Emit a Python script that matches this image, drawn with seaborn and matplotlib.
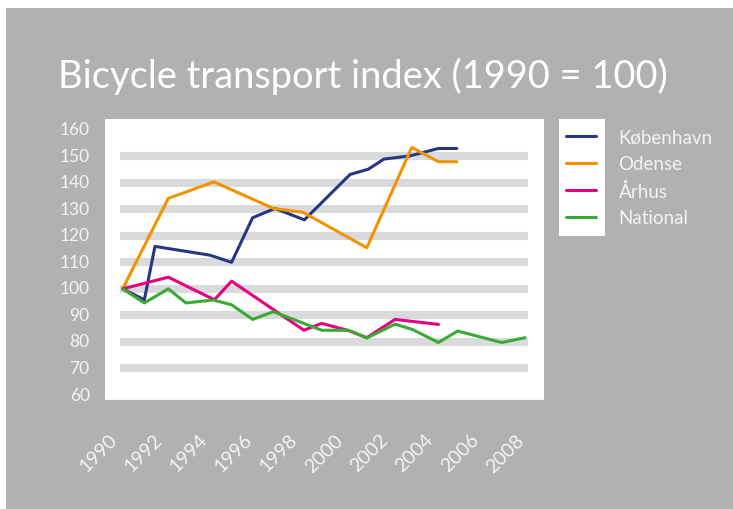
import pandas as pd
import numpy as np
import matplotlib
matplotlib.use('Agg')
import matplotlib.pyplot as plt
import matplotlib.patches as mpatches
from matplotlib.transforms import ScaledTranslation
import seaborn as sns

# data (index, 1990 = 100)
kbh_years = [1990, 1990.96, 1991.43, 1993.86, 1994.82, 1995.75, 1996.74, 1998.04,
             2000.06, 2000.87, 2001.56, 2002.71, 2003.97, 2004.78]
kbh_values = [100, 95.9, 116.0, 112.7, 110.0, 126.8, 130.3, 126.0,
              143.1, 145.1, 148.9, 150.1, 152.9, 152.9]

odense_years = [1990, 1992.02, 1994.04, 1996.67, 1997.99, 2000.8, 2002.79, 2003.97, 2004.78]
odense_values = [100, 134.1, 140.3, 130.3, 128.8, 115.5, 153.3, 147.9, 147.9]

aarhus_years = [1990, 1992.02, 1994.06, 1994.82, 1998.02, 1998.8, 1999.99, 2000.8,
                2002.05, 2003.97]
aarhus_values = [100, 104.4, 95.9, 102.9, 84.4, 87.0, 84.3, 81.6, 88.5, 86.6]

national_years = [1990, 1990.96, 1992.02, 1992.8, 1994.01, 1994.82, 1995.75, 1996.67,
                  1998.81, 1999.99, 2000.8, 2002.05, 2002.82, 2003.97, 2004.82,
                  2006.77, 2007.8]
national_values = [100, 94.7, 100, 94.7, 95.8, 94.0, 88.5, 91.4,
                   84.4, 84.4, 81.5, 86.7, 84.7, 79.8, 84.1, 79.8, 81.6]

series = ['København', 'Odense', 'Århus', 'National']
colors = ['#283583', '#f39200', '#e5007e', '#3aaa35']

band_levels = [70, 80, 90, 100, 110, 120, 130, 140, 150]
y_ticks = [60, 70, 80, 90, 100, 110, 120, 130, 140, 150, 160]
x_labels = ['1990', '1992', '1994', '1996', '1998', '2000', '2002', '2004', '2006', '2008']

df = pd.concat([
    pd.DataFrame({'year': kbh_years, 'index': kbh_values, 'city': series[0]}),
    pd.DataFrame({'year': odense_years, 'index': odense_values, 'city': series[1]}),
    pd.DataFrame({'year': aarhus_years, 'index': aarhus_values, 'city': series[2]}),
    pd.DataFrame({'year': national_years, 'index': national_values, 'city': series[3]}),
])

bg = '#b1b1b3'
txt = '#f4f4f4'
font = ['Lato', 'DejaVu Sans']

sns.set_style('white')
plt.rcParams['font.family'] = font

fig = plt.figure(figsize=(7.33, 5.10), dpi=100)
fig.patches.append(mpatches.Rectangle((6 / 733, 0), 1, 1 - 9 / 510, transform=fig.transFigure,
                                      facecolor=bg, edgecolor='none', zorder=-2))

ax = fig.add_axes([105 / 733, 1 - 404 / 510, 439 / 733, 284 / 510])
ax.set_facecolor('white')

# thick light grey "gridlines"
ax.hlines(band_levels, 0.034, 0.964, transform=ax.get_yaxis_transform(),
          colors='#d9dadb', linewidth=5.8, zorder=1)

sns.lineplot(data=df, x='year', y='index', hue='city', palette=colors, hue_order=series,
             sort=False, estimator=None, linewidth=2.2, legend=False, ax=ax, zorder=3)

ax.set_xlim(1989.22, 2008.64)
ax.set_ylim(57, 164)
ax.set_xlabel('')
ax.set_ylabel('')

for s in ['top', 'right', 'left']:
    ax.spines[s].set_visible(False)
ax.spines['bottom'].set_color(bg)
ax.spines['bottom'].set_linewidth(4.5)
ax.spines['bottom'].set_zorder(1)

ax.set_yticks(y_ticks)
ax.set_yticklabels([str(v) for v in y_ticks])
ax.tick_params(axis='y', length=0, pad=11, labelsize=12.5, labelcolor=txt)
for lab in ax.get_yticklabels():
    lab.set_transform(lab.get_transform() + ScaledTranslation(0, 0.02, fig.dpi_scale_trans))

xt = [1989.4 + 2 * i for i in range(len(x_labels))]
ax.set_xticks(xt)
ax.set_xticklabels(x_labels, rotation=45, ha='right', va='center', rotation_mode='anchor')
ax.tick_params(axis='x', direction='inout', length=6, width=5.5, color='white',
               pad=14, labelsize=14, labelcolor=txt)
for lab in ax.get_xticklabels():
    lab.set_transform(lab.get_transform() + ScaledTranslation(0.05, -0.10, fig.dpi_scale_trans))
ax.xaxis.set_zorder(2)

fig.text(58 / 733, 1 - 88 / 510, 'Bicycle transport index (1990 = 100)', fontsize=27.4,
         color='white', va='baseline', ha='left')

# legend with a white box behind the line keys only
fig.patches.append(mpatches.Rectangle((559 / 733, 1 - 237 / 510), 46 / 733, 117 / 510,
                                      transform=fig.transFigure, facecolor='white',
                                      edgecolor='none', zorder=-1))
leg = fig.legend(ax.get_lines()[:4], series, loc='upper left',
                 bbox_to_anchor=(566 / 733, 1 - 130 / 510), frameon=False,
                 fontsize=13.5, handlelength=1.6, handletextpad=1.2,
                 labelspacing=0.5, borderpad=0, borderaxespad=0)
for t in leg.get_texts():
    t.set_color(txt)

fig.savefig('out.png', dpi=100)
plt.close()
